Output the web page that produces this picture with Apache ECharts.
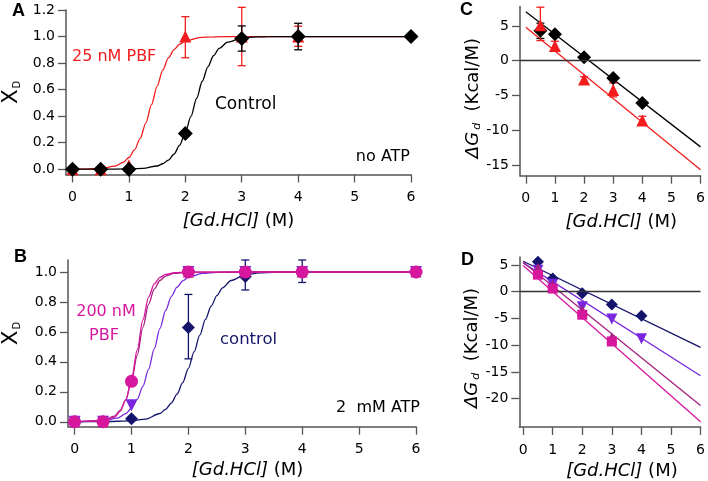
<!DOCTYPE html>
<html><head><meta charset="utf-8">
<script src="https://cdn.jsdelivr.net/npm/echarts@6.0.0/dist/echarts.min.js"></script>
<style>html,body{margin:0;padding:0;background:#fff}#c{width:708px;height:481px}</style>
</head><body><div id="c"></div>
<script>
// ---------- DATA ----------
const ticksX = [0,1,2,3,4,5,6];
const ticksA = [0,0.2,0.4,0.6,0.8,1.0,1.2];
const ticksB = [0,0.2,0.4,0.6,0.8,1.0];
const ticksC = [-15,-10,-5,0,5];
const ticksD = [-20,-15,-10,-5,0,5];

// Panel A (no ATP)
const xA = [0,0.5,1,2,3,4,6];
const aControl = [0,0,0,0.27,0.985,1.0,1.0];
const xApbf = [0,0.5,1,2,3,4];
const aPBF = [0,0,0.03,1.0,1.0,1.0];
const aControlErr = [[3,0.89,1.08],[4,0.90,1.10]];
const aPBFErr = [[2,0.84,1.15],[3,0.78,1.22],[4,0.926,1.078]];
const fitXA_ctrl = [0,0.5,1,1.25,1.5,1.6,1.7,1.8,1.9,2.0,2.1,2.2,2.3,2.4,2.5,2.6,2.75,3,3.25,3.5,4,5,6];
const fitA_ctrl  = [0,0,0.002,0.006,0.024,0.041,0.069,0.114,0.181,0.277,0.398,0.533,0.663,0.772,0.855,0.911,0.958,0.989,0.997,0.999,1,1,1];
const fitXA_pbf = [0,0.25,0.5,0.75,0.9,1.0,1.1,1.2,1.3,1.4,1.5,1.6,1.7,1.8,1.9,2.0,2.25,2.5,3,4,6];
const fitA_pbf  = [0,0.001,0.006,0.023,0.052,0.088,0.146,0.232,0.348,0.486,0.625,0.747,0.839,0.902,0.942,0.966,0.992,0.998,1,1,1];

// Panel B (2 mM ATP)
const xB = [0,0.5,1,2,3,4,6];
const bControl = [0,0,0.02,0.63,0.97,1.0,1.0];
const bPurple  = [0,0,0.11,1.0,1.0,1.0,1.0];
const bDarkMag = [0,0,0.28,1.0,1.0,1.0,1.0];
const bPink    = [0,0,0.27,1.0,1.0,1.0,1.0];
const bControlErr = [[2,0.42,0.85],[3,0.88,1.08],[4,0.93,1.08]];
const fitXB_ctrl = [0,0.5,1,1.25,1.5,1.6,1.7,1.8,1.9,2.0,2.1,2.2,2.3,2.4,2.5,2.6,2.75,3,3.25,3.5,4,6];
const fitB_ctrl  = [0,0.001,0.006,0.018,0.055,0.083,0.125,0.184,0.261,0.357,0.466,0.578,0.683,0.772,0.842,0.894,0.943,0.981,0.994,0.998,1,1];
const fitXB_pur = [0,0.5,0.75,0.9,1.0,1.1,1.2,1.3,1.4,1.5,1.6,1.7,1.8,1.9,2.0,2.25,2.5,3,6];
const fitB_pur  = [0,0.006,0.024,0.054,0.092,0.150,0.236,0.350,0.486,0.623,0.743,0.836,0.899,0.940,0.965,0.991,0.998,1,1];
const fitXB_dm = [0,0.5,0.7,0.8,0.9,1.0,1.1,1.2,1.3,1.4,1.5,1.6,1.75,2,3,6];
const fitB_dm  = [0,0.008,0.037,0.075,0.148,0.272,0.443,0.630,0.784,0.886,0.943,0.973,0.991,0.999,1,1];
const fitXB_pk = [0,0.5,0.7,0.8,0.9,1.0,1.1,1.2,1.3,1.4,1.5,1.6,1.75,2,3,6];
const fitB_pk  = [0,0.006,0.031,0.069,0.146,0.284,0.479,0.680,0.832,0.920,0.964,0.984,0.995,0.999,1,1];

// Panel C (ΔG, no ATP)
const xC = [0.5,1,2,3,4];
const cControl = [4.3,3.8,0.5,-2.5,-6.1];
const cPBF = [5.1,2.1,-2.7,-4.2,-8.6];
const cControlErr = [[0.5,3.2,5.4]];
const cPBFErr = [[0.5,2.9,7.7],[1,1.5,2.8],[2,-3.2,-2.3],[3,-5.2,-3.2],[4,-9.1,-8.0]];
const fitXC = [0,6];
const fitC_ctrl = [7.05,-12.4];
const fitC_pbf = [4.8,-15.7];

// Panel D (ΔG, 2 mM ATP)
const xD = [0.5,1,2,3,4];
const dControl = [5.6,2.5,-0.3,-2.4,-4.5];
const dPurple = [4.0,1.4,-2.8,-5.1,-8.8];
const xD3 = [0.5,1,2,3];
const dDarkMag = [4.4,1.2,-3.5,-8.6];
const dPink = [3.2,0.6,-4.3,-9.3];
const fitXD = [0,6];
const fitD_ctrl = [5.7,-10.4];
const fitD_pur = [5.4,-15.7];
const fitD_dm = [5.5,-21.3];
const fitD_pk = [4.9,-24.3];

// ---------- STYLE ----------
const FONT = 'DejaVu Sans';
const RED = '#f21c1c', BLACK = '#000000', NAVY = '#14146c', PURPLE = '#7a26de', DARKMAG = '#a2207f', PINK = '#d6179e';
const AXC = '#555555';

const zip = (xs, ys) => xs.map((x, i) => [x, ys[i]]);

function xAxisCfg(gi, min, max, gap, padLeft) {
  return {
    type: 'value', gridIndex: gi, min: min, max: max,
    axisLine: {onZero: false, lineStyle: {color: AXC, width: 1.5}},
    axisTick: {customValues: ticksX, length: 8, lineStyle: {color: AXC, width: 1.3}},
    axisLabel: {customValues: ticksX, fontSize: 14, fontFamily: FONT, color: '#000', margin: 16},
    splitLine: {show: false},
    name: '{i|[Gd.HCl]}{n| (M)}', nameLocation: 'middle', nameGap: gap,
    nameTextStyle: {padding: [0,0,0,padLeft], rich: {
      i: {fontSize: 18, fontStyle: 'italic', fontFamily: FONT, color: '#000'},
      n: {fontSize: 18, fontFamily: FONT, color: '#000'}}}
  };
}
function yAxisCfg(gi, min, max, ticks, fmt, name, gap, rich, pad) {
  return {
    type: 'value', gridIndex: gi, min: min, max: max,
    axisLine: {onZero: false, lineStyle: {color: AXC, width: 1.5}},
    axisTick: {customValues: ticks, length: 8, lineStyle: {color: AXC, width: 1.3}},
    axisLabel: {customValues: ticks, fontSize: 14, fontFamily: FONT, color: '#000', margin: 11, formatter: fmt},
    splitLine: {show: false},
    name: name, nameLocation: 'middle', nameGap: gap,
    nameTextStyle: {padding: pad, rich: rich}
  };
}
const richXD = {
  a: {fontSize: 21, fontFamily: FONT, color: '#000'},
  b: {fontSize: 10, fontFamily: FONT, color: '#000', verticalAlign: 'bottom', padding: [0,0,0,1]}
};
const richDG = {
  i: {fontSize: 18, fontStyle: 'italic', fontFamily: FONT, color: '#000'},
  s: {fontSize: 11, fontStyle: 'italic', fontFamily: FONT, color: '#000', verticalAlign: 'bottom', padding: [0,0,0,2]},
  n: {fontSize: 18, fontFamily: FONT, color: '#000'}
};

function errSeries(xi, yi, data, color) {
  return {
    type: 'custom', xAxisIndex: xi, yAxisIndex: yi, data: data, silent: true, z: 3,
    encode: {x: 0, y: [1, 2]},
    renderItem: function (params, api) {
      const x = api.value(0), lo = api.value(1), hi = api.value(2);
      const p1 = api.coord([x, lo]), p2 = api.coord([x, hi]);
      const w = 4, st = {stroke: color, lineWidth: 1.3};
      return {type: 'group', children: [
        {type: 'line', shape: {x1: p1[0], y1: p1[1], x2: p2[0], y2: p2[1]}, style: st},
        {type: 'line', shape: {x1: p1[0]-w, y1: p1[1], x2: p1[0]+w, y2: p1[1]}, style: st},
        {type: 'line', shape: {x1: p2[0]-w, y1: p2[1], x2: p2[0]+w, y2: p2[1]}, style: st}
      ]};
    }
  };
}
function curve(xi, yi, xs, ys, color, z) {
  return {type: 'line', xAxisIndex: xi, yAxisIndex: yi, data: zip(xs, ys), showSymbol: false, symbol: 'none',
    smooth: 0.3, smoothMonotone: 'x', lineStyle: {color: color, width: 1.3}, z: z || 2, silent: true, animation: false};
}
function pts(xi, yi, xs, ys, color, symbol, size, z, rot) {
  return {type: 'scatter', xAxisIndex: xi, yAxisIndex: yi, data: zip(xs, ys), symbol: symbol, symbolSize: size,
    symbolRotate: rot || 0, itemStyle: {color: color, opacity: 1}, z: z || 4, silent: true, animation: false};
}
const zeroLine = {silent: true, symbol: 'none', label: {show: false}, animation: false,
  lineStyle: {color: '#333', width: 1.3, type: 'solid'}, data: [{yAxis: 0}]};

const option = {
  animation: false,
  grid: [
    {left: 65, top: 10, width: 346, height: 164.5},
    {left: 66.7, top: 260, width: 349.3, height: 166.7},
    {left: 520, top: 6.5, width: 184, height: 169.2},
    {left: 519.3, top: 257, width: 184.7, height: 170.3}
  ],
  xAxis: [
    xAxisCfg(0, -0.115, 6, 38, 0),
    xAxisCfg(1, -0.116, 6, 35, 11),
    xAxisCfg(2, -0.2, 6, 38, 22),
    xAxisCfg(3, -0.13, 6, 35, 24)
  ],
  yAxis: [
    yAxisCfg(0, -0.04, 1.2, ticksA, v => v.toFixed(1), '{a|X}{b|D}', 44, richXD, [0,0,0,0]),
    yAxisCfg(1, -0.033, 1.08, ticksB, v => v.toFixed(1), '{a|X}{b|D}', 46, richXD, [0,0,0,20]),
    yAxisCfg(2, -16.55, 7.8, ticksC, v => String(v), '{i|ΔG}{s|d}{n|  (Kcal/M)}', 36, richDG, [0,14,0,0]),
    yAxisCfg(3, -25.3, 6.5, ticksD, v => String(v), '{i|ΔG}{s|d}{n|  (Kcal/M)}', 36, richDG, [0,12,0,0])
  ],
  series: [
    // A
    curve(0, 0, fitXA_pbf, fitA_pbf, RED, 2),
    errSeries(0, 0, aPBFErr, RED),
    pts(0, 0, xApbf, aPBF, RED, 'triangle', 12, 4),
    curve(0, 0, fitXA_ctrl, fitA_ctrl, BLACK, 5),
    errSeries(0, 0, aControlErr, BLACK),
    pts(0, 0, xA, aControl, BLACK, 'diamond', 15, 6),
    // B
    curve(1, 1, fitXB_ctrl, fitB_ctrl, NAVY, 2),
    curve(1, 1, fitXB_pur, fitB_pur, PURPLE, 2),
    curve(1, 1, fitXB_dm, fitB_dm, DARKMAG, 2),
    curve(1, 1, fitXB_pk, fitB_pk, PINK, 3),
    errSeries(1, 1, bControlErr, NAVY),
    pts(1, 1, xB, bControl, NAVY, 'diamond', 13, 4),
    pts(1, 1, xB, bPurple, PURPLE, 'triangle', 12, 5, 180),
    pts(1, 1, xB, bDarkMag, DARKMAG, 'triangle', 11, 5),
    pts(1, 1, xB, bPink, PINK, 'circle', 13, 6),
    // C
    Object.assign(curve(2, 2, fitXC, fitC_ctrl, BLACK, 2), {smooth: false, markLine: zeroLine}),
    Object.assign(curve(2, 2, fitXC, fitC_pbf, RED, 2), {smooth: false}),
    errSeries(2, 2, cControlErr, BLACK),
    errSeries(2, 2, cPBFErr, RED),
    pts(2, 2, xC, cControl, BLACK, 'diamond', 14, 4),
    pts(2, 2, xC, cPBF, RED, 'triangle', 12, 5),
    // D
    Object.assign(curve(3, 3, fitXD, fitD_ctrl, NAVY, 2), {smooth: false, markLine: zeroLine}),
    Object.assign(curve(3, 3, fitXD, fitD_pur, PURPLE, 2), {smooth: false}),
    Object.assign(curve(3, 3, fitXD, fitD_dm, DARKMAG, 2), {smooth: false}),
    Object.assign(curve(3, 3, fitXD, fitD_pk, PINK, 2), {smooth: false}),
    pts(3, 3, xD, dControl, NAVY, 'diamond', 12, 4),
    pts(3, 3, xD, dPurple, PURPLE, 'triangle', 11, 4, 180),
    pts(3, 3, xD3, dDarkMag, DARKMAG, 'triangle', 11, 5),
    pts(3, 3, xD3, dPink, PINK, 'rect', 10, 6)
  ],
  graphic: [
    {type: 'text', x: 12, y: 2, style: {text: 'A', font: 'bold 18px "Liberation Sans"', fill: '#000'}},
    {type: 'text', x: 14, y: 248, style: {text: 'B', font: 'bold 18px "Liberation Sans"', fill: '#000'}},
    {type: 'text', x: 460, y: 1, style: {text: 'C', font: 'bold 18px "Liberation Sans"', fill: '#000'}},
    {type: 'text', x: 461, y: 251, style: {text: 'D', font: 'bold 18px "Liberation Sans"', fill: '#000'}},
    {type: 'text', x: 72, y: 57, style: {text: '25 nM PBF', font: '16px "DejaVu Sans"', fill: RED, verticalAlign: 'middle'}},
    {type: 'text', x: 215, y: 105, style: {text: 'Control', font: '17px "DejaVu Sans"', fill: '#000', verticalAlign: 'middle'}},
    {type: 'text', x: 410, y: 157, style: {text: 'no ATP', font: '16px "DejaVu Sans"', fill: '#000', align: 'right', verticalAlign: 'middle'}},
    {type: 'text', x: 106, y: 312, style: {text: '200 nM', font: '16px "DejaVu Sans"', fill: PINK, align: 'center', verticalAlign: 'middle'}},
    {type: 'text', x: 104, y: 336, style: {text: 'PBF', font: '16px "DejaVu Sans"', fill: PINK, align: 'center', verticalAlign: 'middle'}},
    {type: 'text', x: 220, y: 340, style: {text: 'control', font: '16.5px "DejaVu Sans"', fill: NAVY, verticalAlign: 'middle'}},
    {type: 'text', x: 420, y: 408, style: {text: '2  mM ATP', font: '16px "DejaVu Sans"', fill: '#000', align: 'right', verticalAlign: 'middle'}}
  ]
};
const chart = echarts.init(document.getElementById('c'), null, {renderer: 'canvas'});
chart.setOption(option);
</script></body></html>
